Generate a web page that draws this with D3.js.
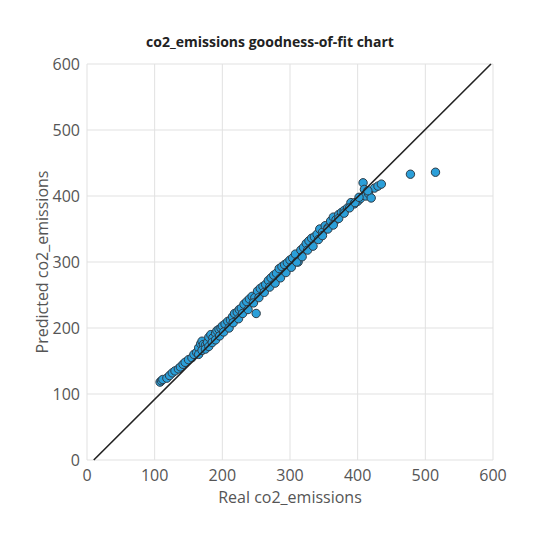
<!DOCTYPE html><html><head><meta charset="utf-8"><script src="https://cdn.jsdelivr.net/npm/d3@7"></script>
<style>body{margin:0;background:#fff}text{font-family:"Segoe UI","Open Sans",sans-serif}</style></head><body>
<svg id="c" width="540" height="540"></svg>
<script>
const realValues = [108,110,112,118,122,126,130,135,138,142,145,150,155,158,162,165,168,170,172,175,178,180,183,186,190,192,195,198,200,204,208,212,215,218,222,225,228,232,236,240,244,248,250,252,256,260,264,268,272,276,280,284,288,292,296,300,304,308,312,316,320,324,328,332,336,340,344,348,352,356,360,364,368,372,376,380,385,390,395,400,404,408,410,412,416,420,425,430,435,478,515,
 165,170,175,180,185,190,196,202,210,216,224,230,238,246,254,262,270,278,286,294,302,310,318,326,334,342,348,356,364,372,380,388,396,402,415];
const predValues = [118,120,122,124,128,132,135,138,141,145,148,152,155,160,163,170,176,180,175,174,178,186,190,185,192,196,198,200,203,206,210,212,217,222,224,228,230,236,240,244,248,246,222,256,260,263,266,272,276,280,283,290,293,296,299,303,306,312,300,318,322,328,332,336,338,342,350,345,355,352,362,368,364,372,375,378,382,390,388,392,396,420,410,400,404,397,412,415,418,433,436,
 160,166,168,172,178,182,188,194,200,208,214,222,228,238,246,254,262,268,276,284,292,300,308,318,324,334,340,350,356,366,374,382,390,398,408];
const xTicks = [0,100,200,300,400,500,600];
const yTicks = [0,100,200,300,400,500,600];
const fitLine = [[10,0],[597,600]];
const svg = d3.select("#c");
const x = d3.scaleLinear().domain([0,600]).range([87,493]);
const y = d3.scaleLinear().domain([0,600]).range([460,64]);
const g = svg.append("g");
g.selectAll(".gx").data(xTicks).join("line").attr("x1",d=>x(d)).attr("x2",d=>x(d)).attr("y1",64).attr("y2",460).attr("stroke","#e1e1e1");
g.selectAll(".gy").data(yTicks).join("line").attr("y1",d=>y(d)).attr("y2",d=>y(d)).attr("x1",87).attr("x2",493).attr("stroke","#e1e1e1");
g.selectAll(".tx").data(xTicks).join("text").attr("x",d=>x(d)).attr("y",481).attr("text-anchor","middle").attr("font-size",16).attr("fill","#555").text(d=>d);
g.selectAll(".ty").data(yTicks).join("text").attr("x",80).attr("y",d=>y(d)+6).attr("text-anchor","end").attr("font-size",16).attr("fill","#555").text(d=>d);
svg.append("g").selectAll("circle").data(realValues.map((r,i)=>[r,predValues[i]])).join("circle")
 .attr("cx",d=>x(d[0])).attr("cy",d=>y(d[1])).attr("r",4.2).attr("fill","#2b9fd9").attr("stroke","#2f3b45").attr("stroke-width",1);
svg.append("line").attr("x1",x(fitLine[0][0])).attr("y1",y(fitLine[0][1])).attr("x2",x(fitLine[1][0])).attr("y2",y(fitLine[1][1])).attr("stroke","#222").attr("stroke-width",1.6);
svg.append("text").attr("x",270).attr("y",47).attr("text-anchor","middle").attr("font-size",14).attr("font-weight","bold").attr("fill","#222").text("co2_emissions goodness-of-fit chart");
svg.append("text").attr("x",290).attr("y",503).attr("text-anchor","middle").attr("font-size",16).attr("fill","#555").text("Real co2_emissions");
svg.append("text").attr("transform","translate(48,262) rotate(-90)").attr("text-anchor","middle").attr("font-size",16).attr("fill","#555").text("Predicted co2_emissions");
</script></body></html>
